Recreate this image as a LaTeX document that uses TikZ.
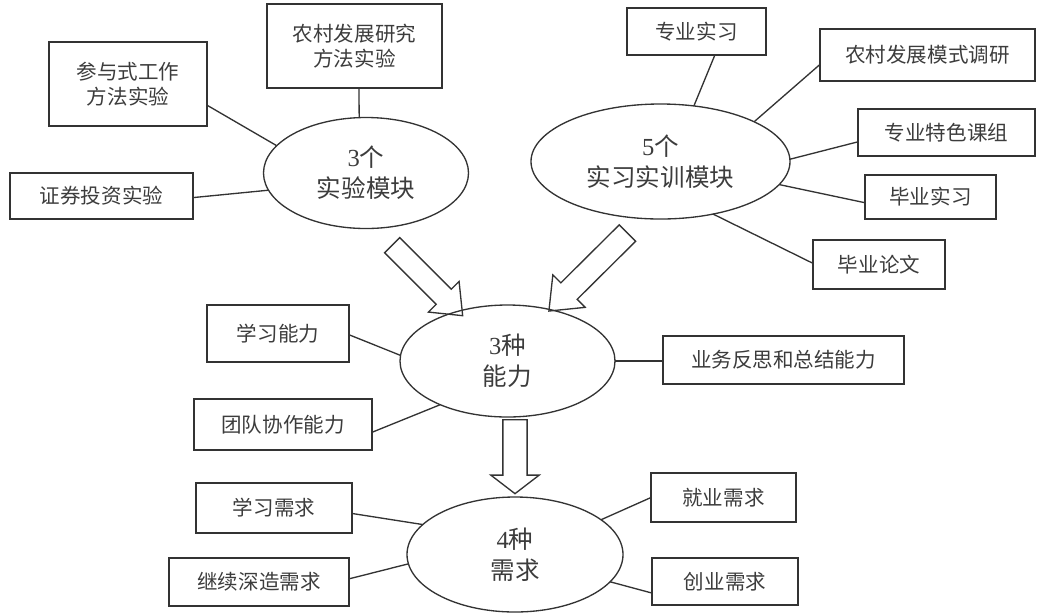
\documentclass[tikz,border=0pt]{standalone}
\usepackage{fontspec}
\setmainfont{Liberation Serif}
\newfontfamily\cjk{Noto Sans CJK SC}
\usetikzlibrary{shapes.geometric,shapes.arrows}

\definecolor{linegray}{RGB}{51,51,51}
\definecolor{textgray}{RGB}{60,60,60}

\tikzset{every picture/.style={line width=0.75pt}}
\tikzset{
  box/.style={draw=linegray, line width=1pt, rectangle, inner sep=0pt, outer sep=0pt,
    align=center, text=textgray, font=\cjk\fontsize{15.4}{18.75}\selectfont},
  hub/.style={draw=linegray, line width=1pt, ellipse, inner sep=0pt, outer sep=0pt,
    align=center, text=textgray, font=\cjk\fontsize{18.4}{23.25}\selectfont},
  link/.style={draw=linegray, line width=1pt},
  bigarrow/.style={draw=linegray, line width=1pt, single arrow, single arrow head indent=0pt,
    inner xsep=0pt, outer sep=0pt}
}

\begin{document}
\begin{tikzpicture}[x=0.75pt,y=0.75pt,yscale=-1,xscale=1]
\useasboundingbox (0,0) rectangle (1038,612);

%Ellipses
\node [hub, minimum width=153.75pt, minimum height=83.25pt] (m1) at (366,173) {{\rmfamily 3}个\\实验模块};
\node [hub, minimum width=194.25pt, minimum height=86.25pt] (m2) at (660.5,161.5) {{\rmfamily 5}个\\实习实训模块};
\node [hub, minimum width=161.25pt, minimum height=84pt] (ab) at (507.5,361) {{\rmfamily 3}种\\能力};
\node [hub, minimum width=162pt, minimum height=86.25pt] (nd) at (515,554.5) {{\rmfamily 4}种\\需求};

% Text Node
\node [box, minimum width=118.5pt, minimum height=63pt] (b1) at (128,84) {参与式工作\\方法实验};
\node [box, minimum width=131.25pt, minimum height=63pt] (b2) at (354.5,46) {农村发展研究\\方法实验};
\node [box, minimum width=137.25pt, minimum height=34.5pt] (b3) at (101.5,196) {证券投资实验};
% Text Node
\node [box, minimum width=104.25pt, minimum height=35.25pt] (c1) at (696.5,31.5) {专业实习};
\node [box, minimum width=161.25pt, minimum height=39pt] (c2) at (927.5,55) {农村发展模式调研};
\node [box, minimum width=132.75pt, minimum height=35.25pt] (c3) at (946.5,132.5) {专业特色课组};
\node [box, minimum width=98.25pt, minimum height=33pt] (c4) at (930.5,197) {毕业实习};
\node [box, minimum width=99pt, minimum height=36.75pt] (c5) at (879,264.5) {毕业论文};
% Text Node
\node [box, minimum width=106.5pt, minimum height=42.75pt] (d1) at (278,333.5) {学习能力};
\node [box, minimum width=180.75pt, minimum height=36pt] (d2) at (783.5,360) {业务反思和总结能力};
\node [box, minimum width=133.5pt, minimum height=38.25pt] (d3) at (283,424.5) {团队协作能力};
% Text Node
\node [box, minimum width=117pt, minimum height=37.5pt] (f1) at (274,508) {学习需求};
\node [box, minimum width=135pt, minimum height=36pt] (f2) at (259,582) {继续深造需求};
\node [box, minimum width=108.75pt, minimum height=36.75pt] (f3) at (723.5,497.5) {就业需求};
\node [box, minimum width=109.5pt, minimum height=35.25pt] (f4) at (725,581.5) {创业需求};

%Straight Lines
\draw [link] (b1.-15) -- (m1.163);
\draw [link] (b2.-84) -- (m1.97);
\draw [link] (b3.-1) -- (m1.-170);
\draw [link] (c1.-52) -- (m2.59);
\draw [link] (c2.-175) -- (m2.23);
\draw [link] (c3.-174) -- (m2.1);
\draw [link] (c4.-175) -- (m2.-11);
\draw [link] (c5.179) -- (m2.-45.5);
\draw [link] (d1.-1) -- (ab.177);
\draw [link] (ab.east) -- (ab.east -| d2.west);
\draw [link] (d3.-5.5) -- (ab.-147);
\draw [link] (f1.-4) -- (nd.162);
\draw [link] (f2.2.5) -- (nd.-175);
\draw [link] (f3.180) -- (nd.22.4);
\draw [link] (f4.-171) -- (nd.-16);

%Block Arrows
\node [bigarrow, rotate=-45, minimum height=74.8pt, inner ysep=7.5pt,
  single arrow head extend=8.25pt, single arrow tip angle=78] (ar1) at (422.75,275.75) {};
\node [bigarrow, rotate=-135.2, minimum height=83pt, inner ysep=8.2pt,
  single arrow head extend=8.5pt, single arrow tip angle=78] (ar2) at (593.25,267) {};
\node [bigarrow, rotate=-90, minimum height=55.5pt, inner ysep=8.6pt,
  single arrow head extend=9pt, single arrow tip angle=105] (ar3) at (515,452) {};

\end{tikzpicture}
\end{document}
